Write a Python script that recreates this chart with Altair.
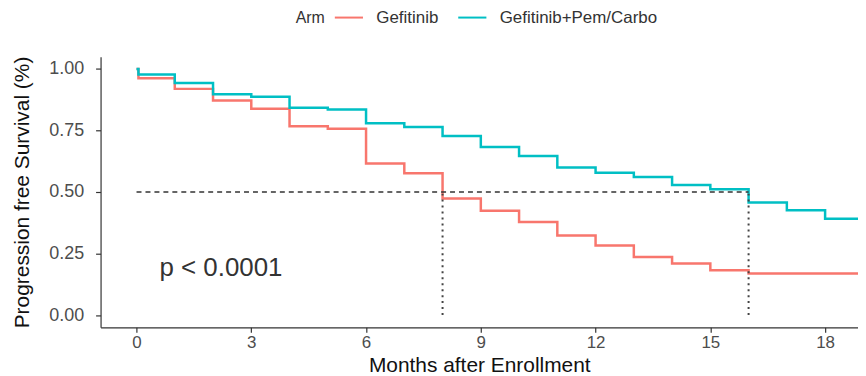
import altair as alt
import pandas as pd

# Kaplan-Meier step values
months_combo = [0, 0.05, 1, 2, 3, 4, 5, 6, 7, 8, 9, 10, 11, 12, 13, 14, 15, 16, 17, 18, 19.5]
surv_combo = [1.0, 0.977, 0.943, 0.897, 0.887, 0.842, 0.835, 0.779, 0.764, 0.728, 0.683,
              0.646, 0.600, 0.578, 0.561, 0.528, 0.511, 0.457, 0.426, 0.391, 0.391]

months_gef = [0, 0.05, 1, 2, 3, 4, 5, 6, 7, 8, 9, 10, 11, 12, 13, 14, 15, 16, 19.5]
surv_gef = [1.0, 0.962, 0.919, 0.872, 0.838, 0.767, 0.757, 0.616, 0.576, 0.474, 0.424,
            0.378, 0.323, 0.283, 0.236, 0.209, 0.182, 0.169, 0.169]

arms = ["Gefitinib", "Gefitinib+Pem/Carbo"]
arm_colors = ["#F8766D", "#00BFC4"]

median_months = [8, 16]
median_level = 0.5

x_ticks = [0, 3, 6, 9, 12, 15, 18]
y_ticks = [0.0, 0.25, 0.5, 0.75, 1.0]

p_label = "p < 0.0001"
p_pos = (0.6, 0.193)

curves = pd.concat([
    pd.DataFrame({"month": months_gef, "surv": surv_gef, "arm": arms[0]}),
    pd.DataFrame({"month": months_combo, "surv": surv_combo, "arm": arms[1]}),
])

hline = pd.DataFrame({"x": [0], "x2": [max(median_months)], "y": [median_level]})
vlines = pd.DataFrame({"x": median_months, "y": [0.0] * len(median_months),
                       "y2": [median_level] * len(median_months)})
ptext = pd.DataFrame({"x": [p_pos[0]], "y": [p_pos[1]], "t": [p_label]})

xscale = alt.Scale(domain=[-0.94, 18.86], nice=False, zero=False)
yscale = alt.Scale(domain=[-0.05, 1.05], nice=False, zero=False)

FONT = "Liberation Sans"

lines = alt.Chart(curves).mark_line(
    interpolate="step-after", strokeWidth=2.5, clip=True
).encode(
    x=alt.X("month:Q", scale=xscale,
            axis=alt.Axis(values=x_ticks, title="Months after Enrollment", format="d",
                          titleY=38, titleBaseline="middle", labelPadding=2,
                          labelFontSize=17)),
    y=alt.Y("surv:Q", scale=yscale,
            axis=alt.Axis(values=y_ticks, title="Progression free Survival (%)",
                          format=".2f", titleX=-78, titleBaseline="middle",
                          labelPadding=12, labelFontSize=18)),
    color=alt.Color("arm:N", scale=alt.Scale(domain=arms, range=arm_colors),
                    legend=alt.Legend(title="Arm", orient="none", legendX=196, legendY=-55,
                                      direction="horizontal", titleOrient="left",
                                      titleAnchor="start", titleBaseline="line-top",
                                      titleLineHeight=32,
                                      symbolType="stroke", symbolStrokeWidth=2,
                                      symbolSize=800, labelFontSize=17, titleFontSize=16,
                                      titleFontWeight="normal", labelOffset=12,
                                      columnPadding=15, titlePadding=8, labelLimit=400,
                                      labelColor="#333333", titleColor="#333333",
                                      labelFont=FONT, titleFont=FONT)),
)

hrule = alt.Chart(hline).mark_rule(
    color="#333333", strokeWidth=1.4, strokeDash=[5, 4]
).encode(x="x:Q", x2="x2:Q", y="y:Q")

vrule = alt.Chart(vlines).mark_rule(
    color="#444444", strokeWidth=2, strokeDash=[2, 4]
).encode(x="x:Q", y="y:Q", y2="y2:Q")

ptxt = alt.Chart(ptext).mark_text(
    align="left", baseline="middle", fontSize=26, font=FONT, color="#333333"
).encode(x="x:Q", y="y:Q", text="t:N")

chart = alt.layer(lines, hrule, vrule, ptxt).properties(
    width=761, height=272,
    autosize=alt.AutoSizeParams(type="none"),
    padding={"left": 93, "top": 48, "right": 0, "bottom": 48},
).configure_view(stroke=None).configure_axis(
    grid=False, domainColor="#333333", domainWidth=1.2, tickColor="#333333",
    tickWidth=1.2, tickSize=5, labelFont=FONT, titleFont=FONT,
    labelColor="#4d4d4d", titleFontSize=21, titleColor="#111111",
    titleFontWeight="normal"
)

chart.save("out.html", embed_options={"renderer": "svg", "actions": False})
